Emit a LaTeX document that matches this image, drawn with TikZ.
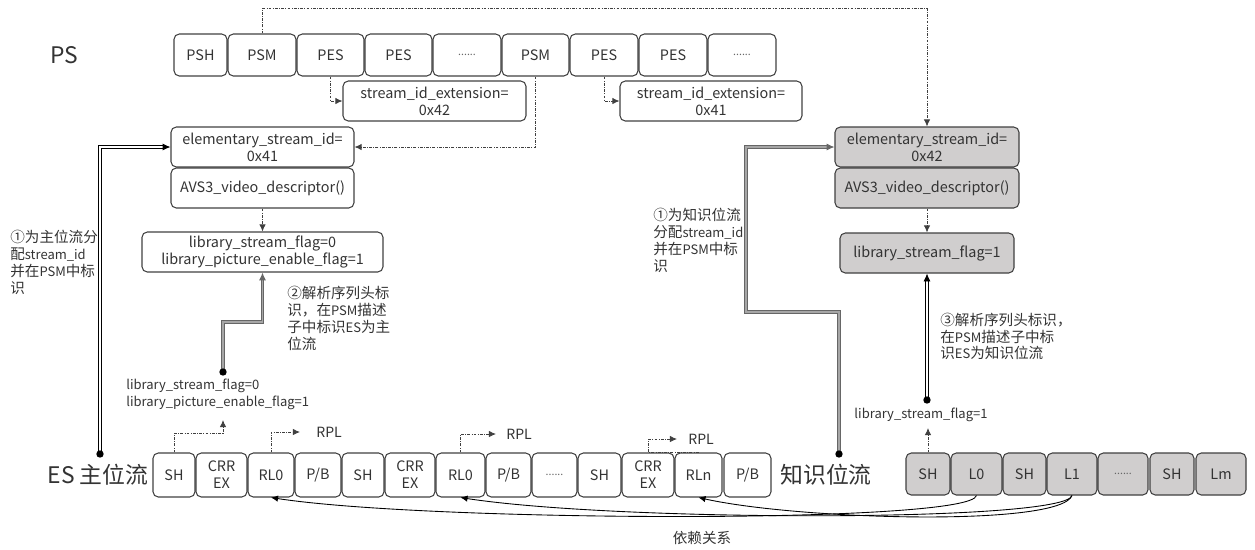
\documentclass[tikz,border=0pt]{standalone}
\usepackage{fontspec}
\setmainfont{Noto Sans CJK SC}
\usetikzlibrary{arrows.meta,calc}
\newdimen\px \px=0.02cm
\definecolor{txt}{HTML}{333333}
\definecolor{edge}{HTML}{404040}
\definecolor{gfill}{HTML}{D0CECE}
\newcommand\dotsx{{\fontsize{6}{7}\selectfont\color{black!60}......}}
\newcommand\lt[1]{{\fontsize{7.4}{9.7}\selectfont #1}}
\newcommand\bx[7][]{\node[box,#1,minimum width={(#4-#2)*\px},minimum height={(#5-#3)*\px}] (#6) at ({(#2+#4)/2},{(#3+#5)/2}) {#7};}
\tikzset{
 box/.style={draw=edge,rounded corners=3pt,line width=0.6pt,text=txt,font=\fontsize{8.2}{9.6}\selectfont,inner sep=1pt,align=center},
 gbox/.style={fill=gfill},
 lbl/.style={text=txt,inner sep=0pt},
 ann/.style={lbl,align=left,anchor=north west,font=\fontsize{8.3}{9.7}\selectfont},
 dd/.style={draw=black!75,line width=0.45pt,dash pattern=on 1.6pt off 0.8pt on 0.4pt off 0.8pt,-{Latex[length=4pt,width=3.6pt]}},
 dblk/.style={draw=black,line width=0.5pt,double=white,double distance=1pt,-{Latex[length=4.5pt,width=4pt]}},
 dgry/.style={draw=black!60,line width=0.55pt,double=black!35,double distance=1.1pt,-{Latex[length=4.5pt,width=4pt]}},
 dep/.style={draw=black,line width=0.5pt,-{Latex[length=4pt,width=3.6pt]}},
}
\begin{document}
\begin{tikzpicture}[x=0.02cm,y=-0.02cm]
\useasboundingbox (0,0) rectangle (1255,549);
% PS row
\node[lbl,font=\fontsize{13}{15}\selectfont] (ps) at (64,55) {PS};
\bx{174}{34}{227}{76}{psh}{PSH}
\bx{228}{34}{296}{76}{psm1}{PSM}
\bx{297}{34}{364}{76}{pes1}{PES}
\bx{365}{34}{432}{76}{pes2}{PES}
\bx{433}{34}{501}{76}{dots1}{\dotsx}
\bx{502}{34}{569}{76}{psm2}{PSM}
\bx{570}{34}{638}{76}{pes3}{PES}
\bx{639}{34}{707}{76}{pes4}{PES}
\bx{708}{34}{776}{76}{dots2}{\dotsx}
\bx{343}{81}{526}{121}{ext42}{stream\_id\_extension=\\0x42}
\bx{620}{81}{802}{121}{ext41}{stream\_id\_extension=\\0x41}
% left column
\bx{171}{127}{354}{167}{elem1}{elementary\_stream\_id=\\0x41}
\bx{171}{168}{354}{208}{avs1}{AVS3\_video\_descriptor()}
\bx{142}{232}{383}{272}{lib1}{library\_stream\_flag=0\\library\_picture\_enable\_flag=1}
% right column
\bx[gbox]{835}{127}{1019}{167}{elem2}{elementary\_stream\_id=\\0x42}
\bx[gbox]{835}{168}{1019}{208}{avs2}{AVS3\_video\_descriptor()}
\bx[gbox]{840}{233}{1014}{273}{lib2}{library\_stream\_flag=1}
% ES main row
\node[lbl,font=\fontsize{13}{15}\selectfont] (esl) at (98,475) {ES 主位流};
\bx{153}{453}{195}{497}{sh1}{SH}
\bx{196}{453}{247}{497}{crr1}{CRR\\EX}
\bx{248}{453}{294}{497}{rl0a}{RL0}
\bx{295}{453}{341}{497}{pb1}{P/B}
\bx{342}{453}{384}{497}{sh2}{SH}
\bx{385}{453}{435}{497}{crr2}{CRR\\EX}
\bx{436}{453}{485}{497}{rl0b}{RL0}
\bx{486}{453}{531}{497}{pb2}{P/B}
\bx{532}{453}{577}{497}{dots3}{\dotsx}
\bx{578}{453}{621}{497}{sh3}{SH}
\bx{622}{453}{674}{497}{crr3}{CRR\\EX}
\bx{675}{453}{722}{497}{rln}{RLn}
\bx{724}{453}{771}{497}{pb3}{P/B}
\node[lbl,font=\fontsize{13}{15}\selectfont] (kl) at (826,475) {知识位流};
% library row
\bx[gbox]{906}{453}{950}{495}{gsh1}{SH}
\bx[gbox]{951}{453}{1002}{495}{gl0}{L0}
\bx[gbox]{1003}{453}{1046}{495}{gsh2}{SH}
\bx[gbox]{1047}{453}{1097}{495}{gl1}{L1}
\bx[gbox]{1098}{453}{1148}{495}{dots4}{\dotsx}
\bx[gbox]{1150}{453}{1194}{495}{gsh3}{SH}
\bx[gbox]{1196}{453}{1246}{495}{glm}{Lm}
% texts
\node[ann] (a1) at (10,230) {①为主位流分\\配\lt{stream\_id}\\并在\lt{PSM}中标\\识};
\node[ann] (a2) at (287,286) {②解析序列头标\\识，在\lt{PSM}描述\\子中标识\lt{ES}为主\\位流};
\node[ann] (a3) at (653,208) {①为知识位流\\分配\lt{stream\_id}\\并在\lt{PSM}中标\\识};
\node[ann,font=\fontsize{8.3}{9.4}\selectfont] (a4) at (940,313) {③解析序列头标识，\\在\lt{PSM}描述子中标\\识\lt{ES}为知识位流};
\node[ann,font=\fontsize{7.4}{9.2}\selectfont] (lt1) at (126,379) {library\_stream\_flag=0\\library\_picture\_enable\_flag=1};
\node[lbl,font=\fontsize{7.4}{9.2}\selectfont] (lt2) at (921,415) {library\_stream\_flag=1};
\node[lbl,anchor=west,font=\fontsize{8}{9}\selectfont] (rplA) at (316,432) {RPL};
\node[lbl,anchor=west,font=\fontsize{8}{9}\selectfont] (rplB) at (506,434) {RPL};
\node[lbl,anchor=west,font=\fontsize{8}{9}\selectfont] (rplC) at (688,439) {RPL};
\node[lbl,font=\fontsize{8.3}{9.7}\selectfont] (dep) at (702,538) {依赖关系};
% coordinates
\coordinate (dA) at (100,454);
\coordinate (dB) at (223,372);
\coordinate (dC) at (927,400);
\coordinate (dD) at (839,454);
\coordinate (t1) at (223,420);
\coordinate (t2) at (928,428);
% dashed connectors
\draw[dd] (psm1.north) -- ++(0,-25) -| (elem2.north);
\draw[dd] (pes1.south) |- (ext42.west);
\draw[dd] (pes3.south) |- (ext41.west);
\draw[dd] (psm2.south) |- (elem1.east);
\draw[dd] (avs1.south) -- (lib1.north);
\draw[dd] (avs2.south) -- (lib2.north);
\draw[dd] (sh1.north) -- ++(0,-19) -| (t1);
\draw[dd] (rl0a.north) |- ($(rplA.west)+(-16,0)$);
\draw[dd] (rl0b.north) |- ($(rplB.west)+(-10,0)$);
\draw[dd] (rln.north) -- ++(-50,0) |- ($(rplC.west)+(-11,0)$);
\draw[dd] (gsh1.north) -- (t2);
% double connectors
\draw[dblk] (dA) |- (elem1.west);
\draw[dgry] (dB) -- ++(0,-50) -| (lib1.south);
\draw[dblk] (dC) -- (lib2.south);
\draw[dgry] (dD) -- ++(0,-142) -- ++(-93,0) |- (elem2.west);
\foreach \d in {dA,dB,dC,dD} \fill (\d) circle (2.1pt);
% dependency curves
\draw[dep] (gl0.south) .. controls (970,524) and (430,522) .. (rl0a.south);
\draw[dep] (gl1.south) .. controls (1065,522) and (620,522) .. (rl0b.south);
\draw[dep] (gl1.south) .. controls (1060,527) and (800,520) .. (rln.south);
\end{tikzpicture}
\end{document}
